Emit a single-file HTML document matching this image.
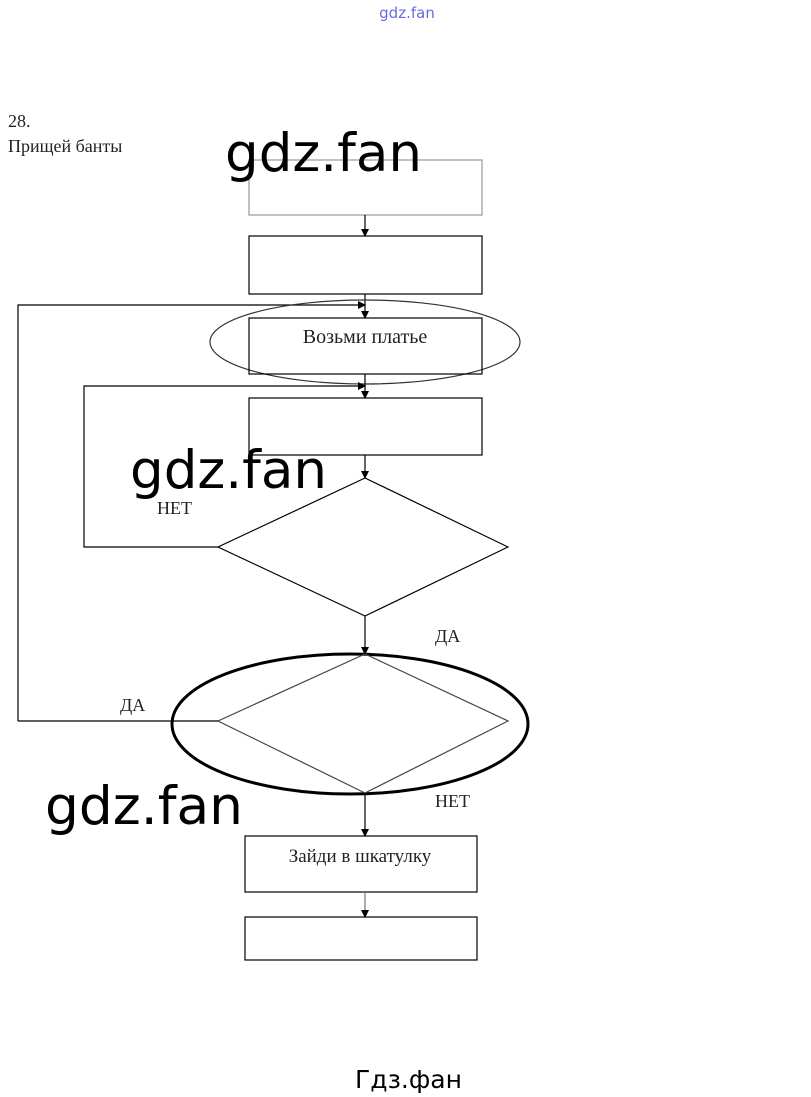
<!DOCTYPE html><html><head><meta charset="utf-8"><style>body{margin:0;background:#fff}svg{display:block}</style></head><body>
<svg width="811" height="1097" viewBox="0 0 811 1097" xmlns="http://www.w3.org/2000/svg">
<defs><marker id="a" markerWidth="8" markerHeight="8" refX="7" refY="4" orient="auto" markerUnits="userSpaceOnUse"><path d="M0,0 L8,4 L0,8 z" fill="#000"/></marker></defs>
<text x="407" y="18" font-family="DejaVu Sans, sans-serif" font-size="15" fill="#6a6ae0" text-anchor="middle">gdz.fan</text>
<g font-family="Liberation Serif, serif" font-size="18" fill="#222">
<text x="8" y="127">28.</text>
<text x="8" y="152">Прищей банты</text>
</g>
<g fill="none" stroke="#000" stroke-width="1.2">
<rect x="249" y="160" width="233" height="55" stroke="#999"/>
<line x1="365" y1="215" x2="365" y2="236" marker-end="url(#a)"/>
<rect x="249" y="236" width="233" height="58"/>
<polyline points="18,721 18,305 365,305" marker-end="url(#a)"/>
<line x1="365" y1="294" x2="365" y2="318" marker-end="url(#a)"/>
<ellipse cx="365" cy="342" rx="155" ry="42" stroke="#333"/>
<rect x="249" y="318" width="233" height="56"/>
<polyline points="218,547 84,547 84,386 365,386" marker-end="url(#a)"/>
<line x1="365" y1="374" x2="365" y2="398" marker-end="url(#a)"/>
<rect x="249" y="398" width="233" height="57"/>
<line x1="365" y1="455" x2="365" y2="478" marker-end="url(#a)"/>
<polygon points="365,478 508,547 365,616 218,547"/>
<line x1="365" y1="616" x2="365" y2="654" marker-end="url(#a)"/>
<ellipse cx="350" cy="724" rx="178" ry="70" stroke-width="3"/>
<polygon points="365,654 508,721 365,793 218,721" stroke="#444"/>
<line x1="18" y1="721" x2="218" y2="721"/>
<line x1="365" y1="793" x2="365" y2="836" marker-end="url(#a)"/>
<rect x="245" y="836" width="232" height="56"/>
<line x1="365" y1="892" x2="365" y2="917" stroke="#777" marker-end="url(#a)"/>
<rect x="245" y="917" width="232" height="43"/>
</g>
<g font-family="Liberation Serif, serif" font-size="18" fill="#222">
<text x="365" y="343" text-anchor="middle" font-size="20">Возьми платье</text>
<text x="157" y="514">НЕТ</text>
<text x="435" y="642">ДА</text>
<text x="120" y="711">ДА</text>
<text x="435" y="807">НЕТ</text>
<text x="360" y="862" text-anchor="middle" font-size="19">Зайди в шкатулку</text>
</g>
<g font-family="DejaVu Sans, sans-serif" font-size="53" fill="#000">
<text x="225" y="171" textLength="197" lengthAdjust="spacingAndGlyphs">gdz.fan</text>
<text x="130" y="488" textLength="197" lengthAdjust="spacingAndGlyphs">gdz.fan</text>
<text x="45" y="824" textLength="198" lengthAdjust="spacingAndGlyphs">gdz.fan</text>
</g>
<text x="355" y="1088" font-family="DejaVu Sans, sans-serif" font-size="25" fill="#000" textLength="107" lengthAdjust="spacingAndGlyphs">Гдз.фан</text>
</svg>
</body></html>
